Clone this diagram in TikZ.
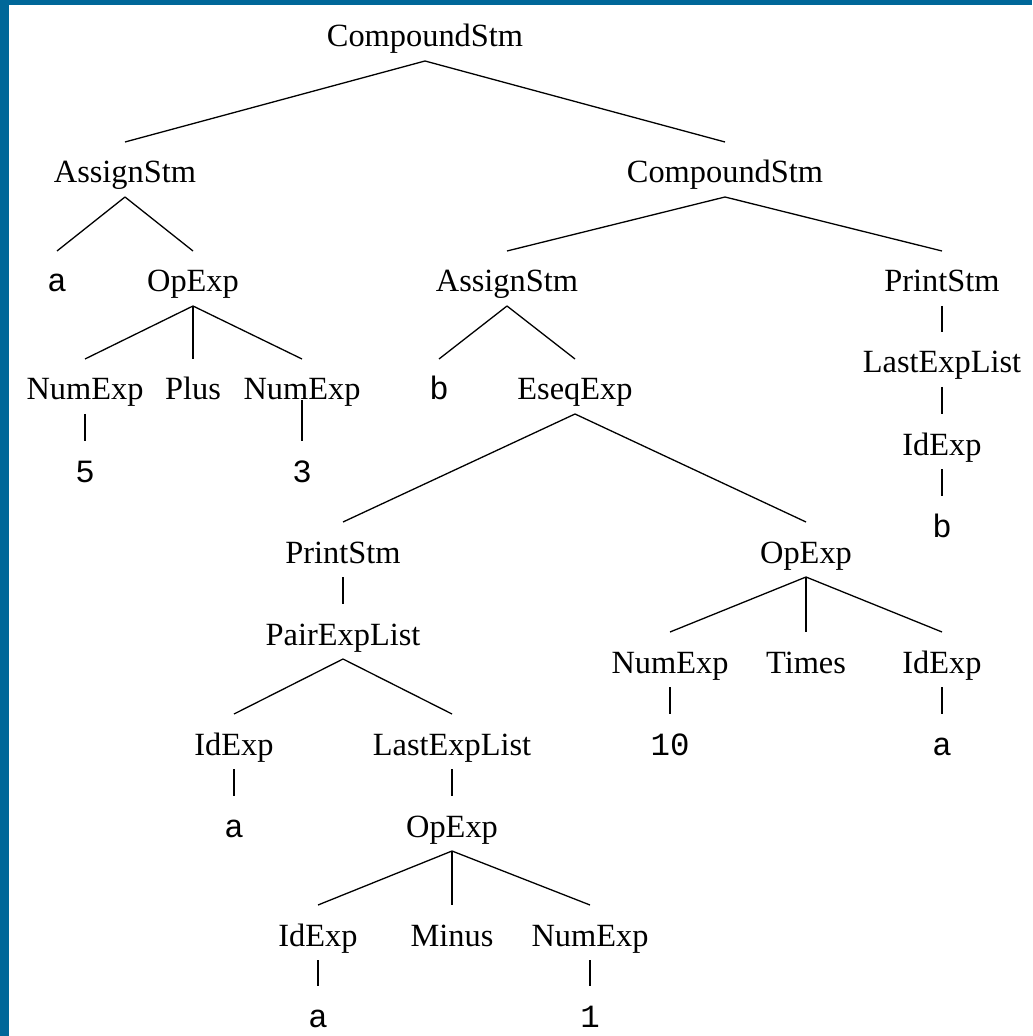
\documentclass[tikz,border=0pt]{standalone}
\usepackage{fontspec}
\setmainfont{Liberation Serif}
\setmonofont{Liberation Mono}
\usetikzlibrary{calc}
\definecolor{frameblue}{RGB}{0,103,153}
\tikzset{
  tn/.style={anchor=base, inner sep=0pt, outer sep=0pt, text height=20.5pt, text depth=7pt,
    font=\fontsize{16.2}{19}\selectfont},
  tl/.style={tn, font=\fontsize{16.2}{19}\selectfont\ttfamily},
  edge/.style={line width=0.65pt, black}
}
\begin{document}
\begin{tikzpicture}[x=0.5pt, y=-0.5pt]
\useasboundingbox (0,0) rectangle (1032,1036);
\fill[white] (0,0) rectangle (1032,1036);
\fill[frameblue] (0,0) rectangle (8.5,1036);
\fill[frameblue] (0,0) rectangle (1032,5);

% nodes
\node[tn] (root) at (425,47) {CompoundStm};
\node[tn] (as1) at (125,183) {AssignStm};
\node[tn] (cs2) at (725,183) {CompoundStm};
\node[tl] (a1) at (57,292) {a};
\node[tn] (op1) at (193,292) {OpExp};
\node[tn] (ne1) at (85,400) {NumExp};
\node[tn] (plus) at (193,400) {Plus};
\node[tn] (ne2) at (302,400) {NumExp};
\node[tl] (n5) at (85,482) {5};
\node[tl] (n3) at (302,482) {3};
\node[tn] (as2) at (507,292) {AssignStm};
\node[tn] (ps1) at (942,292) {PrintStm};
\node[tn] (lel2) at (942,373) {LastExpList};
\node[tn] (id4) at (942,455) {IdExp};
\node[tl] (b2) at (942,537) {b};
\node[tl] (b1) at (439,400) {b};
\node[tn] (eseq) at (575,400) {EseqExp};
\node[tn] (ps2) at (343,563) {PrintStm};
\node[tn] (op2) at (806,563) {OpExp};
\node[tn] (pel) at (343,645) {PairExpList};
\node[tn] (ne3) at (670,673) {NumExp};
\node[tn] (times) at (806,673) {Times};
\node[tn] (id1) at (942,673) {IdExp};
\node[tl] (n10) at (670,755) {10};
\node[tl] (a2) at (942,755) {a};
\node[tn] (id2) at (234,755) {IdExp};
\node[tn] (lel) at (452,755) {LastExpList};
\node[tl] (a3) at (234,837) {a};
\node[tn] (op3) at (452,837) {OpExp};
\node[tn] (id3) at (318,946) {IdExp};
\node[tn] (minus) at (452,946) {Minus};
\node[tn] (ne4) at (590,946) {NumExp};
\node[tl] (a4) at (318,1027) {a};
\node[tl] (n1) at (590,1027) {1};

% edges
\draw[edge] (root.south) -- (as1.north);
\draw[edge] (root.south) -- (cs2.north);
\draw[edge] (as1.south) -- (a1.north);
\draw[edge] (as1.south) -- (op1.north);
\draw[edge] (op1.south) -- (ne1.north);
\draw[edge] (op1.south) -- (plus.north);
\draw[edge] (op1.south) -- (ne2.north);
\draw[edge] (ne1.south) -- (n5.north);
\draw[edge] ($(ne2.south)+(0,-14)$) -- (n3.north);
\draw[edge] (cs2.south) -- (as2.north);
\draw[edge] (cs2.south) -- (ps1.north);
\draw[edge] (ps1.south) -- (lel2.north);
\draw[edge] (lel2.south) -- (id4.north);
\draw[edge] (id4.south) -- (b2.north);
\draw[edge] (as2.south) -- (b1.north);
\draw[edge] (as2.south) -- (eseq.north);
\draw[edge] (eseq.south) -- (ps2.north);
\draw[edge] (eseq.south) -- (op2.north);
\draw[edge] (ps2.south) -- (pel.north);
\draw[edge] (op2.south) -- (ne3.north);
\draw[edge] (op2.south) -- (times.north);
\draw[edge] (op2.south) -- (id1.north);
\draw[edge] (ne3.south) -- (n10.north);
\draw[edge] (id1.south) -- (a2.north);
\draw[edge] (pel.south) -- (id2.north);
\draw[edge] (pel.south) -- (lel.north);
\draw[edge] (id2.south) -- (a3.north);
\draw[edge] (lel.south) -- (op3.north);
\draw[edge] (op3.south) -- (id3.north);
\draw[edge] (op3.south) -- (minus.north);
\draw[edge] (op3.south) -- (ne4.north);
\draw[edge] (id3.south) -- (a4.north);
\draw[edge] (ne4.south) -- (n1.north);
\end{tikzpicture}
\end{document}
